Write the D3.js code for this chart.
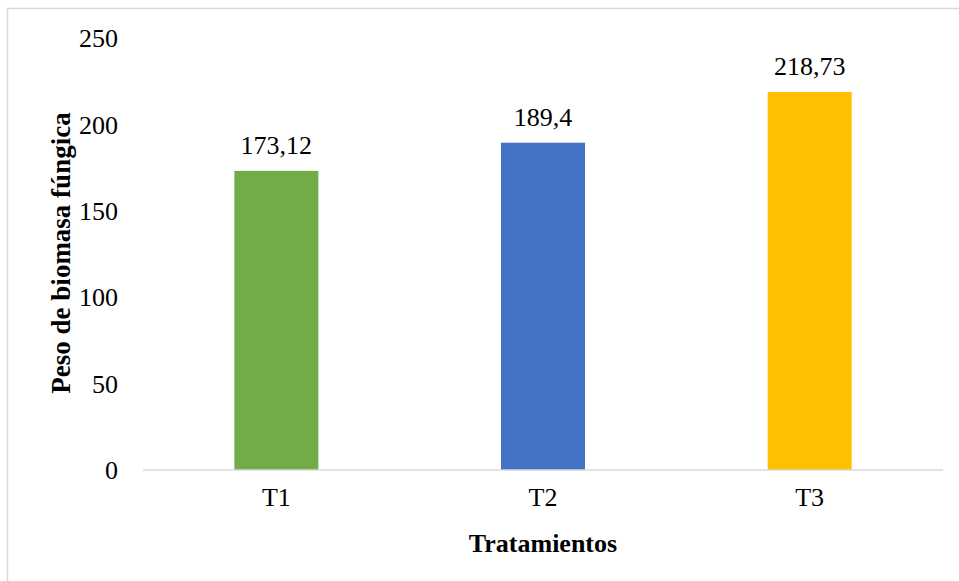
<!DOCTYPE html>
<html lang="es">
<head>
  <meta charset="UTF-8">
  <title>Peso de biomasa fúngica</title>
  <style>
    body {
      margin: 0;
      background: #fff;
    }
    svg { display: block; }
    svg text { font-family: "Liberation Serif", "Times New Roman", serif; fill: #000; }
  </style>
</head>
<body>
  <script src="https://d3js.org/d3.v7.min.js"></script>
  <script>
    const categories = ['T1', 'T2', 'T3'];
    const values = [173.12, 189.4, 218.73];
    const colors = ['#70ad47', '#4472c4', '#ffc000'];
    const yTicks = [0, 50, 100, 150, 200, 250];

    const width = 959;
    const height = 581;

    const svg = d3.select('body')
      .append('svg')
      .attr('width', width)
      .attr('height', height);

    // chart frame (cut off on the right and bottom in the original)
    svg.append('rect')
      .attr('x', 7.5)
      .attr('y', 8.5)
      .attr('width', 980)
      .attr('height', 600)
      .attr('fill', 'none')
      .attr('stroke', '#d9d9d9')
      .attr('stroke-width', 1.5);

    const x = d3.scaleBand()
      .domain(categories)
      .range([143, 943])
      .paddingInner(0.685)
      .paddingOuter(0.3425);

    const y = d3.scaleLinear()
      .domain([0, 250])
      .range([470, 38]);

    const fmt = v => String(v).replace('.', ',');

    // y tick labels, no axis line
    svg.selectAll('.ytick')
      .data(yTicks)
      .enter().append('text')
        .attr('class', 'ytick')
        .attr('x', 118)
        .attr('y', d => y(d))
        .attr('dy', '0.35em')
        .attr('text-anchor', 'end')
        .style('font-size', '26px')
        .text(d => d);

    svg.selectAll('.bar')
      .data(values)
      .enter().append('rect')
        .attr('class', 'bar')
        .attr('x', (d, i) => x(categories[i]))
        .attr('y', d => y(d))
        .attr('width', x.bandwidth())
        .attr('height', d => y(0) - y(d))
        .attr('fill', (d, i) => colors[i]);

    // x axis line
    svg.append('line')
      .attr('x1', 143)
      .attr('x2', 943)
      .attr('y1', y(0))
      .attr('y2', y(0))
      .attr('stroke', '#d9d9d9')
      .attr('stroke-width', 1.5);

    svg.selectAll('.label')
      .data(values)
      .enter().append('text')
        .attr('class', 'label')
        .attr('x', (d, i) => x(categories[i]) + x.bandwidth() / 2)
        .attr('y', d => y(d) - 17)
        .attr('text-anchor', 'middle')
        .style('font-size', '26px')
        .text(d => fmt(d));

    svg.selectAll('.xtick')
      .data(categories)
      .enter().append('text')
        .attr('class', 'xtick')
        .attr('x', d => x(d) + x.bandwidth() / 2)
        .attr('y', 506)
        .attr('text-anchor', 'middle')
        .style('font-size', '26px')
        .text(d => d);

    svg.append('text')
      .attr('x', 543)
      .attr('y', 552)
      .attr('text-anchor', 'middle')
      .style('font-size', '26px')
      .style('font-weight', 'bold')
      .text('Tratamientos');

    svg.append('text')
      .attr('transform', 'translate(70,253) rotate(-90)')
      .attr('text-anchor', 'middle')
      .style('font-size', '27px')
      .style('font-weight', 'bold')
      .text('Peso de biomasa fúngica');
  </script>
</body>
</html>
